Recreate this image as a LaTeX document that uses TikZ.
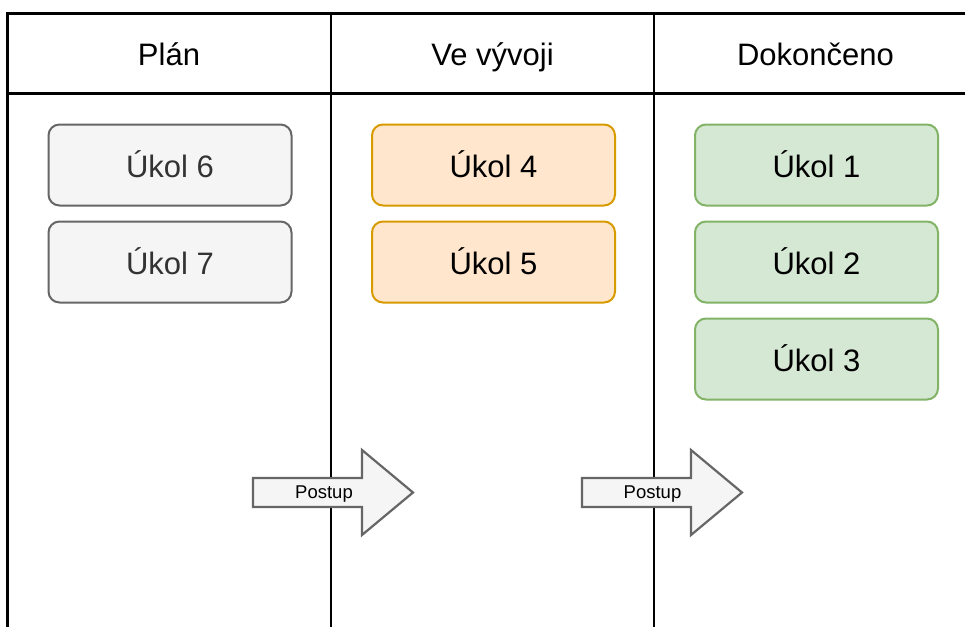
\documentclass[tikz,border=0pt]{standalone}
\usepackage{fontspec}
\setmainfont{Liberation Sans}
\begin{document}
\begin{tikzpicture}[x=1pt,y=-1pt,
  lane/.style={line width=2.6pt,draw=black},
  header/.style={font=\fontsize{31}{36}\selectfont,text=black,anchor=base,inner sep=0pt},
  card/.style={rounded corners=11pt,line width=2pt,minimum width=243pt,minimum height=81pt,
    font=\fontsize{31}{36}\selectfont,anchor=north west,inner sep=0pt,
    text height=25pt,text depth=0pt},
  graycard/.style={card,fill=cardgrayfill,draw=cardgraydraw,text=cardgraytext},
  orangecard/.style={card,fill=cardorangefill,draw=cardorangedraw,text=black},
  greencard/.style={card,fill=cardgreenfill,draw=cardgreendraw,text=black},
  flowarrow/.style={fill=cardgrayfill,draw=cardgraydraw,line width=2.2pt,line join=miter},
  flowlabel/.style={font=\fontsize{18.5}{22}\selectfont,text=black,inner sep=0pt,anchor=base}
]
\definecolor{cardgrayfill}{HTML}{F5F5F5}
\definecolor{cardgraydraw}{HTML}{666666}
\definecolor{cardgraytext}{HTML}{333333}
\definecolor{cardorangefill}{HTML}{FFE6CC}
\definecolor{cardorangedraw}{HTML}{D79B00}
\definecolor{cardgreenfill}{HTML}{D5E8D4}
\definecolor{cardgreendraw}{HTML}{82B366}

\useasboundingbox[fill=white] (0,0) rectangle (965,626);
\clip (0,0) rectangle (965,626);

% board frame and lane separators
\draw[lane] (7.5,700) -- (7.5,13.5) -- (1000,13.5);
\draw[lane] (7.5,93.5) -- (1000,93.5);
\draw[lane] (331,13.5) -- (331,700);
\draw[lane] (654,13.5) -- (654,700);

% lane headers (placed by baseline)
\node[header] (hplan) at (169,65.5) {Plán};
\node[header] (hdev) at (492.5,65.5) {Ve vývoji};
\node[header] (hdone) at (815.5,65.5) {Dokončeno};

% cards
\node[graycard] (t6) at (47.5,123.5) {Úkol 6};
\node[graycard] (t7) at (47.5,220.5) {Úkol 7};
\node[orangecard] (t4) at (371,123.5) {Úkol 4};
\node[orangecard] (t5) at (371,220.5) {Úkol 5};
\node[greencard] (t1) at (694,123.5) {Úkol 1};
\node[greencard] (t2) at (694,220.5) {Úkol 2};
\node[greencard] (t3) at (694,317.5) {Úkol 3};

% progress arrows
\draw[flowarrow] (253,478) -- (362,478) -- (362,450) -- (413,492.5) -- (362,535)
  -- (362,507) -- (253,507) -- cycle;
\node[flowlabel] (p1) at (324,498.5) {Postup};
\draw[flowarrow] (582,478) -- (691,478) -- (691,450) -- (742,492.5) -- (691,535)
  -- (691,507) -- (582,507) -- cycle;
\node[flowlabel] (p2) at (652.5,498.5) {Postup};
\end{tikzpicture}
\end{document}
